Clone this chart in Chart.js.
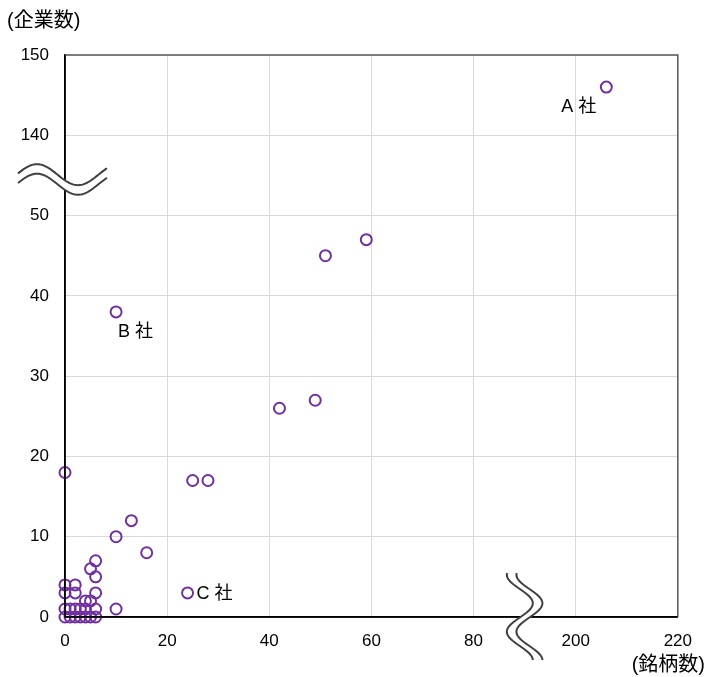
<!DOCTYPE html>
<html>
<head>
<meta charset="utf-8">
<script src="https://cdn.jsdelivr.net/npm/chart.js@4"></script>
<style>
  body { margin: 0; background: #fff; }
</style>
</head>
<body>
<canvas id="chart" width="706" height="677"></canvas>
<script>
// 銘柄数 (x) and 企業数 (y) per company
const brandCounts = [206, 59, 51, 10, 42, 49, 0, 25, 28, 13, 10, 16, 24, 10, 6, 5, 6,
    0, 2, 0, 2, 6, 4, 5, 0, 1, 2, 3, 4, 6, 0, 1, 2, 3, 4, 5, 6];
const companyCounts = [146, 47, 45, 38, 26, 27, 18, 17, 17, 12, 10, 8, 3, 1, 7, 6, 5,
    4, 4, 3, 3, 3, 2, 2, 1, 1, 1, 1, 1, 1, 0, 0, 0, 0, 0, 0, 0];

// named points
const pointNames = ['A 社', 'B 社', 'C 社'];
const namedIndex = [0, 3, 12];

// tick labels (axis is broken: 80 | 200, 50 | 140)
const xTickLabels = ['0', '20', '40', '60', '80', '200', '220'];
const yTickLabels = ['0', '10', '20', '30', '40', '50', '140', '150'];

const xTitle = '(銘柄数)';
const yTitle = '(企業数)';

const purple = '#7030A0';
const numFont = '"Liberation Sans", Arial, sans-serif';
const jpFont = '"Liberation Sans", "Noto Sans CJK JP", sans-serif';

// map a real value onto the broken axis
const toXAxis = (v) => v > 100 ? v - 100 : v;
const toYAxis = (v) => v > 100 ? v - 80 : v;

const points = brandCounts.map((b, i) => {
    return { x: toXAxis(b), y: toYAxis(companyCounts[i]) };
});

// one squiggle band, drawn along a centre line
function drawWave(ctx, vertical, centre, from, to, amp, period, phase) {
    const half = 4.8;
    const edgeA = [];
    const edgeB = [];
    for (let t = from; t <= to; t += 1) {
        const off = amp * Math.sin(2 * Math.PI * (t - phase) / period);
        if (vertical) {
            edgeA.push([centre + off - half, t]);
            edgeB.push([centre + off + half, t]);
        } else {
            edgeA.push([t, centre - off - half]);
            edgeB.push([t, centre - off + half]);
        }
    }
    ctx.save();
    ctx.beginPath();
    edgeA.forEach((p, i) => i ? ctx.lineTo(p[0], p[1]) : ctx.moveTo(p[0], p[1]));
    for (let i = edgeB.length - 1; i >= 0; i--) ctx.lineTo(edgeB[i][0], edgeB[i][1]);
    ctx.closePath();
    ctx.fillStyle = '#fff';
    ctx.fill();
    ctx.strokeStyle = '#404040';
    ctx.lineWidth = 2;
    [edgeA, edgeB].forEach((edge) => {
        ctx.beginPath();
        edge.forEach((p, i) => i ? ctx.lineTo(p[0], p[1]) : ctx.moveTo(p[0], p[1]));
        ctx.stroke();
    });
    ctx.restore();
}

const extras = {
    id: 'extras',
    afterDraw(chart) {
        const { ctx, chartArea, scales } = chart;
        const xs = scales.x;
        const ys = scales.y;

        // plot frame
        ctx.save();
        ctx.strokeStyle = '#595959';
        ctx.lineWidth = 1.5;
        ctx.beginPath();
        ctx.moveTo(chartArea.left, chartArea.top);
        ctx.lineTo(chartArea.right, chartArea.top);
        ctx.lineTo(chartArea.right, chartArea.bottom);
        ctx.stroke();
        ctx.strokeStyle = '#000';
        ctx.beginPath();
        ctx.moveTo(chartArea.left, chartArea.top);
        ctx.lineTo(chartArea.left, chartArea.bottom);
        ctx.lineTo(chartArea.right, chartArea.bottom);
        ctx.stroke();
        ctx.restore();

        // axis breaks
        const yBreak = ys.getPixelForValue(54.5);
        drawWave(ctx, false, yBreak, chartArea.left - 47, chartArea.left + 42, 10.5, 82, chartArea.left - 48.5);
        const xBreak = xs.getPixelForValue(90);
        drawWave(ctx, true, xBreak, chartArea.bottom - 44, chartArea.bottom + 43, 13, 57, chartArea.bottom - 28);

        // point names
        ctx.save();
        ctx.font = '18px ' + jpFont;
        ctx.fillStyle = '#000';
        ctx.textBaseline = 'middle';
        const offsets = [[-45, 20], [2, 20], [9, 1]];
        namedIndex.forEach((idx, i) => {
            const px = xs.getPixelForValue(points[idx].x);
            const py = ys.getPixelForValue(points[idx].y);
            ctx.fillText(pointNames[i], px + offsets[i][0], py + offsets[i][1]);
        });

        // axis titles
        ctx.font = '20px ' + jpFont;
        ctx.textAlign = 'left';
        ctx.fillText(yTitle, 7, 21);
        ctx.textAlign = 'right';
        ctx.fillText(xTitle, 705, 665);
        ctx.restore();
    }
};

new Chart(document.getElementById('chart'), {
    type: 'scatter',
    data: {
        datasets: [{
            data: points,
            pointStyle: 'circle',
            pointRadius: 5.5,
            pointHoverRadius: 5.5,
            pointBorderWidth: 2,
            borderColor: purple,
            backgroundColor: 'rgba(0,0,0,0)',
            clip: false
        }]
    },
    options: {
        responsive: false,
        animation: false,
        events: [],
        layout: { padding: { top: 55, right: 28, left: 0, bottom: 0 } },
        plugins: {
            legend: { display: false },
            tooltip: { enabled: false }
        },
        scales: {
            x: {
                type: 'linear',
                min: 0,
                max: 120,
                afterFit: (s) => { s.height = 60; },
                grid: { color: '#d9d9d9', drawTicks: false },
                border: { color: '#000', width: 1.5 },
                ticks: {
                    stepSize: 20,
                    padding: 14,
                    color: '#000',
                    font: { family: numFont, size: 17 },
                    callback: (v) => xTickLabels[v / 20]
                }
            },
            y: {
                type: 'linear',
                min: 0,
                max: 70,
                afterFit: (s) => { s.width = 65; },
                grid: { color: '#d9d9d9', drawTicks: false },
                border: { color: '#000', width: 1.5 },
                ticks: {
                    stepSize: 10,
                    padding: 16,
                    color: '#000',
                    font: { family: numFont, size: 17 },
                    callback: (v) => yTickLabels[v / 10]
                }
            }
        }
    },
    plugins: [extras]
});
</script>
</body>
</html>
